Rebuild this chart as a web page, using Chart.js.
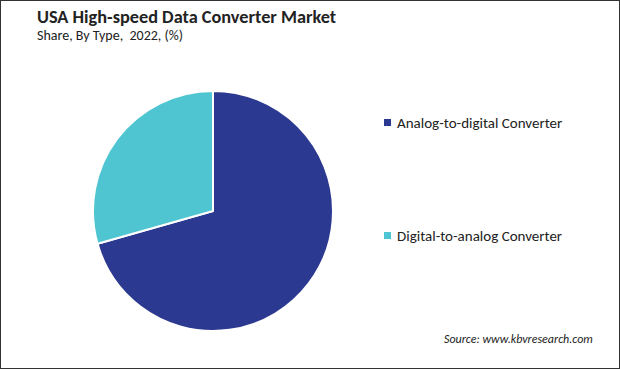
<!DOCTYPE html>
<html>
<head>
<meta charset="utf-8">
<script src="https://cdn.jsdelivr.net/npm/chart.js@4"></script>
<style>
  html, body { margin: 0; padding: 0; background: #fff; }
  #frame {
    position: relative; width: 618px; height: 367px;
    border: 1px solid #333; overflow: hidden;
    font-family: Carlito, "Open Sans", "Liberation Sans", sans-serif;
  }
  #title { position: absolute; left: 36px; top: 5px; font-size: 18.3px; font-weight: bold; color: #222; }
  #subtitle { position: absolute; left: 36px; top: 26px; font-size: 14px; color: #222; }
  #pie-box { position: absolute; left: 91px; top: 89px; width: 242px; height: 242px; }
  #legend { position: absolute; left: 383px; top: 0; font-size: 15px; color: #222; }
  .leg-item { position: absolute; white-space: nowrap; }
  .leg-item span.box { display: inline-block; width: 7px; height: 7px; margin-right: 6px; vertical-align: 2px; }
  #source { position: absolute; left: 443px; top: 331px; font-size: 12px; font-style: italic; color: #222; }
</style>
</head>
<body>
<div id="frame">
  <div id="title">USA High-speed Data Converter Market</div>
  <div id="subtitle">Share, By Type,&nbsp; 2022, (%)</div>
  <div id="pie-box"><canvas id="pieChart"></canvas></div>
  <div id="legend"></div>
  <div id="source">Source: www.kbvresearch.com</div>
</div>
<script>
// Data
const categories = ['Analog-to-digital Converter', 'Digital-to-analog Converter'];
const shareValues = [70.6, 29.4];
const sliceColors = ['#2b3990', '#4fc5d2'];
const legendTops = [113, 226];

// Legend built from the same arrays
const legendEl = document.getElementById('legend');
categories.forEach((name, i) => {
    const item = document.createElement('div');
    item.className = 'leg-item';
    item.style.top = legendTops[i] + 'px';
    item.innerHTML = `<span class="box" style="background:${sliceColors[i]}"></span>${name}`;
    legendEl.appendChild(item);
});

const ctx = document.getElementById('pieChart').getContext('2d');
new Chart(ctx, {
    type: 'pie',
    data: {
        labels: categories,
        datasets: [{
            data: shareValues,
            backgroundColor: sliceColors,
            borderColor: '#ffffff',
            borderWidth: 2
        }]
    },
    options: {
        responsive: true,
        maintainAspectRatio: false,
        animation: false,
        layout: { padding: 0 },
        plugins: {
            legend: { display: false },
            tooltip: { enabled: false }
        }
    }
});
</script>
</body>
</html>
